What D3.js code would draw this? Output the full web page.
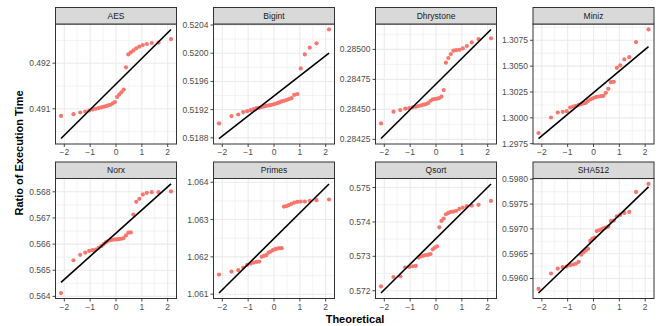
<!DOCTYPE html>
<html><head><meta charset="utf-8">
<script src="https://cdn.jsdelivr.net/npm/d3@7"></script>
<style>body{margin:0;background:#fff}text{font-family:"Liberation Sans",Arial,sans-serif}</style>
</head><body><svg id="c" width="663" height="326"></svg>
<script>
const panels = ["AES","Bigint","Dhrystone","Miniz","Norx","Primes","Qsort","SHA512"];
const theoretical = [-2.128,-1.645,-1.383,-1.192,-1.036,-0.903,-0.783,-0.674,-0.573,-0.477,-0.385,-0.297,-0.210,-0.126,-0.042,
  0.042,0.126,0.210,0.297,0.385,0.477,0.573,0.674,0.783,0.903,1.036,1.192,1.383,1.645,2.128];
const aesValues = [0.490844,0.490881,0.490919,0.490941,0.490963,0.490985,0.491000,0.491015,0.491030,0.491044,0.491059,0.491074,0.491089,0.491119,0.491148,
  0.491259,0.491311,0.491363,0.491422,0.491911,0.492193,0.492237,0.492281,0.492326,0.492363,0.492400,0.492422,0.492444,0.492452,0.492530];
const bigintValues = [0.519004,0.519108,0.519131,0.519165,0.519179,0.519193,0.519207,0.519221,0.519226,0.519236,0.519245,0.519254,0.519259,0.519264,0.519273,
  0.519283,0.519292,0.519302,0.519316,0.519325,0.519335,0.519349,0.519363,0.519410,0.519420,0.519785,0.519983,0.520078,0.520140,0.520337];
const dhrystoneValues = [0.284383,0.284481,0.284494,0.284506,0.284511,0.284517,0.284522,0.284528,0.284533,0.284539,0.284544,0.284553,0.284572,0.284583,0.284586,
  0.284589,0.284594,0.284606,0.284661,0.284889,0.284928,0.284961,0.284989,0.284994,0.284997,0.285008,0.285028,0.285058,0.285086,0.285092];
const minizValues = [1.298532,1.300032,1.300516,1.300581,1.300645,1.301000,1.301097,1.301161,1.301258,1.301323,1.301387,1.301452,1.301645,1.301774,1.301871,
  1.301968,1.302032,1.302065,1.302097,1.302129,1.302419,1.302806,1.303450,1.303484,1.304839,1.305065,1.305645,1.305871,1.307323,1.308548];
const norxValues = [0.564128,0.565383,0.565588,0.565677,0.565741,0.565767,0.565792,0.565856,0.565920,0.566000,0.566077,0.566128,0.566153,0.566166,0.566179,
  0.566179,0.566192,0.566204,0.566230,0.566332,0.566435,0.566447,0.567128,0.567617,0.567732,0.567898,0.567962,0.567987,0.567987,0.568013];
const primesValues = [1.061527,1.061607,1.061643,1.061714,1.061786,1.061821,1.061848,1.061866,1.061875,1.062000,1.062027,1.062045,1.062116,1.062143,1.062179,
  1.062205,1.062223,1.062232,1.062232,1.063348,1.063357,1.063384,1.063420,1.063455,1.063473,1.063482,1.063482,1.063500,1.063518,1.063536];
const qsortValues = [0.572127,0.572399,0.572419,0.572672,0.572692,0.572711,0.572721,0.572965,0.573000,0.573019,0.573039,0.573049,0.573068,0.573204,0.573253,
  0.573292,0.573844,0.574029,0.574097,0.574224,0.574263,0.574292,0.574302,0.574322,0.574380,0.574419,0.574458,0.574477,0.574497,0.574611];
const sha512Values = [0.595792,0.596101,0.596201,0.596228,0.596242,0.596268,0.596282,0.596302,0.596336,0.596480,0.596527,0.596567,0.596600,0.596758,0.596805,
  0.596825,0.596957,0.596973,0.596993,0.597013,0.597027,0.597047,0.597160,0.597168,0.597255,0.597282,0.597322,0.597342,0.597745,0.597906];
const seriesValues = [aesValues,bigintValues,dhrystoneValues,minizValues,norxValues,primesValues,qsortValues,sha512Values];
// reference line values at the lowest and highest theoretical quantile
const lineLow  = [0.490347,0.518790,0.284257,1.297996,0.564537,1.061031,0.571932,0.595707];
const lineHigh = [0.492741,0.520000,0.285166,1.306887,0.568300,1.063953,0.575105,0.597846];
const xTicks = [-2,-1,0,1,2];
const xTickLabels = ["\u22122","\u22121","0","1","2"];
const yTicks = [
  [0.491,0.492],
  [0.5188,0.5192,0.5196,0.5200,0.5204],
  [0.28425,0.28450,0.28475,0.28500],
  [1.2975,1.3000,1.3025,1.3050,1.3075],
  [0.564,0.565,0.566,0.567,0.568],
  [1.061,1.062,1.063,1.064],
  [0.572,0.573,0.574,0.575],
  [0.5960,0.5965,0.5970,0.5975,0.5980]];
const yTickLabels = [
  ["0.491","0.492"],
  ["0.5188","0.5192","0.5196","0.5200","0.5204"],
  ["0.28425","0.28450","0.28475","0.28500"],
  ["1.2975","1.3000","1.3025","1.3050","1.3075"],
  ["0.564","0.565","0.566","0.567","0.568"],
  ["1.061","1.062","1.063","1.064"],
  ["0.572","0.573","0.574","0.575"],
  ["0.5960","0.5965","0.5970","0.5975","0.5980"]];

const svg = d3.select("#c");
const colLeft = [55.5,213.5,375.5,533];
const panelW = 121, panelH = 120, stripH = 16.5;
const rowTop = [24, 178.5];

panels.forEach((name,i)=>{
  const col = i%4, row = Math.floor(i/4);
  const x0 = colLeft[col], y0 = rowTop[row];
  const g = svg.append("g").attr("transform",`translate(${x0},${y0})`);
  const xMin = d3.min(theoretical), xMax = d3.max(theoretical);
  const xe = (xMax-xMin)*0.05;
  const x = d3.scaleLinear().domain([xMin-xe,xMax+xe]).range([0,panelW]);
  const vals = seriesValues[i];
  const yMin = Math.min(d3.min(vals), lineLow[i], lineHigh[i]);
  const yMax = Math.max(d3.max(vals), lineLow[i], lineHigh[i]);
  const ye = (yMax-yMin)*0.05;
  const y = d3.scaleLinear().domain([yMin-ye,yMax+ye]).range([panelH,0]);
  // minor breaks
  const yt = yTicks[i], step = yt[1]-yt[0];
  const yMinor = [];
  for(let k=-1;k<yt.length;k++){ const v = yt[0]+(k+0.5)*step; if(v>=y.domain()[0]&&v<=y.domain()[1]) yMinor.push(v); }
  const xMinor = [];
  for(let k=-1;k<xTicks.length;k++){ const v = xTicks[0]+(k+0.5); if(v>=x.domain()[0]&&v<=x.domain()[1]) xMinor.push(v); }
  g.append("rect").attr("width",panelW).attr("height",panelH).attr("fill","#fff");
  g.selectAll(".ymn").data(yMinor).enter().append("line").attr("x1",0).attr("x2",panelW)
    .attr("y1",d=>y(d)).attr("y2",d=>y(d)).attr("stroke","#EBEBEB").attr("stroke-width",0.6);
  g.selectAll(".xmn").data(xMinor).enter().append("line").attr("y1",0).attr("y2",panelH)
    .attr("x1",d=>x(d)).attr("x2",d=>x(d)).attr("stroke","#EBEBEB").attr("stroke-width",0.6);
  g.selectAll(".ymj").data(yt).enter().append("line").attr("x1",0).attr("x2",panelW)
    .attr("y1",d=>y(d)).attr("y2",d=>y(d)).attr("stroke","#EBEBEB").attr("stroke-width",1.1);
  g.selectAll(".xmj").data(xTicks).enter().append("line").attr("y1",0).attr("y2",panelH)
    .attr("x1",d=>x(d)).attr("x2",d=>x(d)).attr("stroke","#EBEBEB").attr("stroke-width",1.1);
  // points
  g.selectAll(".pt").data(vals).enter().append("circle")
    .attr("cx",(d,k)=>x(theoretical[k])).attr("cy",d=>y(d)).attr("r",2.1).attr("fill","#F8766D");
  // line
  g.append("line").attr("x1",x(xMin)).attr("x2",x(xMax)).attr("y1",y(lineLow[i])).attr("y2",y(lineHigh[i]))
    .attr("stroke","#000").attr("stroke-width",1.6);
  // border
  g.append("rect").attr("width",panelW).attr("height",panelH).attr("fill","none").attr("stroke","#333333").attr("stroke-width",1);
  // strip
  g.append("rect").attr("y",-stripH).attr("width",panelW).attr("height",stripH).attr("fill","#D9D9D9").attr("stroke","#333333").attr("stroke-width",1);
  g.append("text").attr("x",panelW/2).attr("y",-stripH/2).attr("dy","0.35em").attr("text-anchor","middle")
    .attr("font-size","8.5px").attr("fill","#1A1A1A").text(name);
  // y axis
  yt.forEach((v,k)=>{
    g.append("line").attr("x1",-3).attr("x2",0).attr("y1",y(v)).attr("y2",y(v)).attr("stroke","#333333").attr("stroke-width",0.9);
    g.append("text").attr("x",-5).attr("y",y(v)).attr("dy","0.35em").attr("text-anchor","end")
      .attr("font-size","8.5px").attr("fill","#4D4D4D").text(yTickLabels[i][k]);
  });
  // x axis
  xTicks.forEach((v,k)=>{
    g.append("line").attr("y1",panelH).attr("y2",panelH+3).attr("x1",x(v)).attr("x2",x(v)).attr("stroke","#333333").attr("stroke-width",0.9);
    g.append("text").attr("x",x(v)).attr("y",panelH+11).attr("text-anchor","middle")
      .attr("font-size","8.5px").attr("fill","#4D4D4D").text(xTickLabels[k]);
  });
});
svg.append("text").attr("x",355).attr("y",322.5).attr("text-anchor","middle").attr("font-size","11px")
  .attr("font-weight","bold").attr("fill","#000").text("Theoretical");
svg.append("text").attr("transform","translate(22.5,153) rotate(-90)").attr("text-anchor","middle").attr("font-size","11px")
  .attr("font-weight","bold").attr("fill","#000").text("Ratio of Execution Time");
</script></body></html>
